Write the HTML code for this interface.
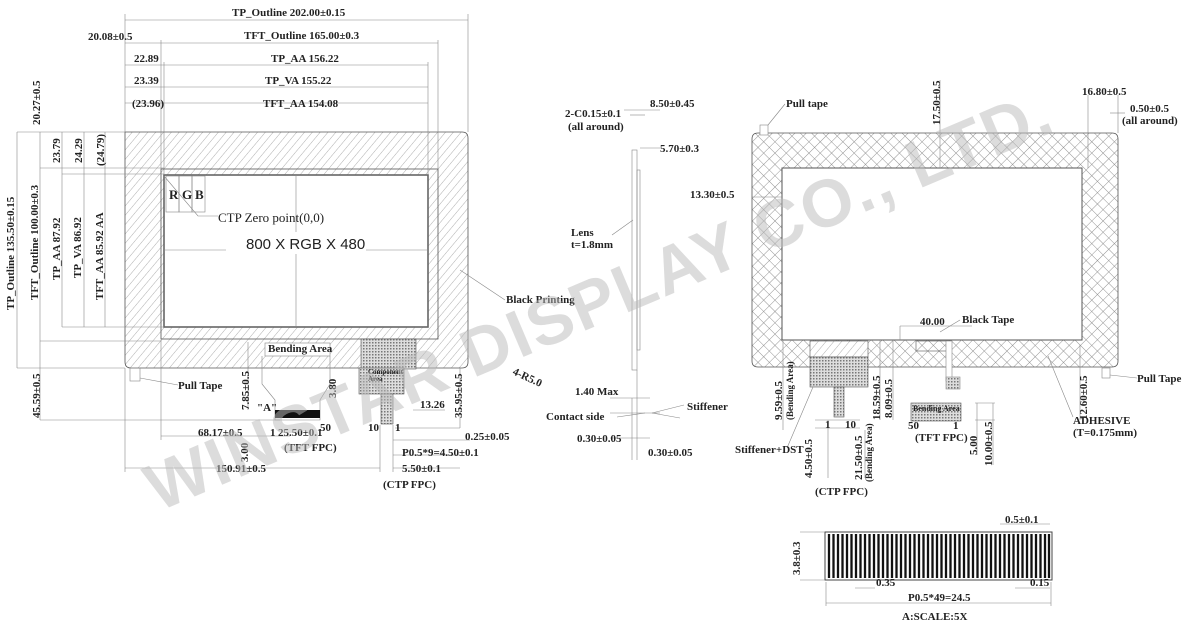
<!DOCTYPE html>
<html><head><meta charset="utf-8"><style>
body{margin:0;background:#fff}
svg{display:block;font-family:"Liberation Serif",serif;font-weight:bold}
text{font-size:11px;fill:#222}
.l{stroke:#555;stroke-width:0.8}
.t{stroke:#888;stroke-width:0.6;fill:none}
</style></head><body>
<svg width="1200" height="633" viewBox="0 0 1200 633" xmlns="http://www.w3.org/2000/svg">
<defs>
<pattern id="h" width="6" height="6" patternUnits="userSpaceOnUse" patternTransform="rotate(40)">
<rect width="6" height="6" fill="#fff"/><line x1="0" y1="0" x2="0" y2="6" stroke="#999" stroke-width="0.8"/></pattern>
<pattern id="x" width="8" height="8" patternUnits="userSpaceOnUse" patternTransform="rotate(45)">
<rect width="8" height="8" fill="#fff"/><line x1="0" y1="0" x2="0" y2="8" stroke="#888" stroke-width="0.9"/><line x1="0" y1="0" x2="8" y2="0" stroke="#888" stroke-width="0.9"/></pattern>
<pattern id="d" width="3" height="3" patternUnits="userSpaceOnUse"><rect width="3" height="3" fill="#ddd"/><rect width="1.5" height="1.5" fill="#777"/></pattern>
</defs>

<!-- LEFT VIEW -->
<path d="M125 132 H462 Q468 132 468 138 V362 Q468 368 462 368 H131 Q125 368 125 362 Z" fill="url(#h)" class="l"/>
<rect x="164" y="175" width="264" height="152" fill="#fff" stroke="#666" stroke-width="1.6"/>
<rect x="161" y="169" width="277" height="170" class="l" fill="none"/>
<line x1="296" y1="175" x2="296" y2="327" class="t"/>
<line x1="164" y1="250" x2="428" y2="250" class="t"/>
<rect x="226" y="232" width="140" height="22" fill="#fff"/>
<text x="246" y="249" style="font-family:'Liberation Sans',sans-serif;font-weight:normal;font-size:15px">800 X RGB X 480</text>
<rect x="166" y="176" width="13" height="36" class="t"/><rect x="179" y="176" width="13" height="36" class="t"/><rect x="192" y="176" width="13" height="36" class="t"/>
<text x="169" y="199" style="font-size:13px">R</text><text x="182" y="199" style="font-size:13px">G</text><text x="195" y="199" style="font-size:13px">B</text>
<polyline points="164,176 198,216 218,216" class="t"/>
<text x="218" y="222" style="font-size:13px;font-weight:normal">CTP Zero point(0,0)</text>
<rect x="361" y="339" width="55" height="30" fill="url(#d)" stroke="#555" stroke-width="0.6"/>
<rect x="359" y="368" width="45" height="26" fill="url(#d)" stroke="#555" stroke-width="0.6"/>
<text x="368" y="374" style="font-size:7px">Component</text><text x="368" y="381" style="font-size:7px">Area</text>
<rect x="381" y="394" width="12" height="30" fill="url(#d)" stroke="#555" stroke-width="0.6"/>
<rect x="265" y="343" width="65" height="13" fill="#fff" stroke="#888" stroke-width="0.6"/>
<text x="268" y="352">Bending Area</text>
<polyline points="262,356 262,384 275,400 275,420 320,420 320,400 330,384 330,356" class="t"/>
<rect x="275" y="410" width="45" height="8" fill="#111"/>
<rect x="130" y="368" width="10" height="13" class="t"/>
<line x1="140" y1="378" x2="178" y2="385" class="t"/>
<text x="178" y="389">Pull Tape</text>
<line x1="460" y1="270" x2="505" y2="300" class="t"/>
<text x="506" y="303">Black Printing</text>
<text x="512" y="374" transform="rotate(25 512 374)">4-R5.0</text>
<g class="t">
<line x1="125" y1="20" x2="468" y2="20"/><line x1="125" y1="14" x2="125" y2="132"/><line x1="468" y1="14" x2="468" y2="132"/>
<line x1="125" y1="43" x2="438" y2="43"/><line x1="161" y1="40" x2="161" y2="169"/><line x1="438" y1="40" x2="438" y2="169"/>
<line x1="125" y1="65" x2="428" y2="65"/><line x1="164" y1="62" x2="164" y2="175"/><line x1="428" y1="62" x2="428" y2="175"/>
<line x1="125" y1="87" x2="428" y2="87"/><line x1="125" y1="103" x2="428" y2="103"/>
<line x1="17" y1="132" x2="125" y2="132"/><line x1="17" y1="368" x2="125" y2="368"/>
<line x1="17" y1="132" x2="17" y2="368"/><line x1="40" y1="132" x2="40" y2="420"/><line x1="62" y1="132" x2="62" y2="327"/><line x1="84" y1="132" x2="84" y2="327"/><line x1="105" y1="132" x2="105" y2="327"/>
<line x1="40" y1="168" x2="164" y2="168"/><line x1="62" y1="174" x2="164" y2="174"/><line x1="62" y1="327" x2="164" y2="327"/><line x1="40" y1="341" x2="161" y2="341"/>
<line x1="40" y1="420" x2="280" y2="420"/>
<line x1="161" y1="436" x2="290" y2="436"/><line x1="161" y1="340" x2="161" y2="440"/>
<line x1="125" y1="468" x2="380" y2="468"/><line x1="125" y1="368" x2="125" y2="472"/>
<line x1="248" y1="342" x2="248" y2="410"/>
<line x1="460" y1="368" x2="460" y2="428"/><line x1="395" y1="428" x2="460" y2="428"/>
<line x1="380" y1="425" x2="380" y2="472"/><line x1="393" y1="425" x2="393" y2="472"/>
<line x1="393" y1="440" x2="470" y2="440"/><line x1="393" y1="455" x2="460" y2="455"/><line x1="393" y1="468" x2="460" y2="468"/>
<line x1="413" y1="410" x2="445" y2="410"/>
</g>
<text x="232" y="16">TP_Outline 202.00±0.15</text>
<text x="88" y="40">20.08±0.5</text>
<text x="244" y="39">TFT_Outline 165.00±0.3</text>
<text x="134" y="62">22.89</text><text x="271" y="62">TP_AA 156.22</text>
<text x="134" y="84">23.39</text><text x="265" y="84">TP_VA 155.22</text>
<text x="132" y="107">(23.96)</text><text x="263" y="107">TFT_AA 154.08</text>
<text transform="translate(40 125) rotate(-90)">20.27±0.5</text>
<text transform="translate(14 310) rotate(-90)">TP_Outline 135.50±0.15</text>
<text transform="translate(38 300) rotate(-90)">TFT_Outline 100.00±0.3</text>
<text transform="translate(60 280) rotate(-90)">TP_AA 87.92</text>
<text transform="translate(81 278) rotate(-90)">TP_VA 86.92</text>
<text transform="translate(103 300) rotate(-90)">TFT_AA 85.92 AA</text>
<text transform="translate(60 163) rotate(-90)">23.79</text>
<text transform="translate(82 163) rotate(-90)">24.29</text>
<text transform="translate(104 166) rotate(-90)">(24.79)</text>
<text transform="translate(40 418) rotate(-90)">45.59±0.5</text>
<text transform="translate(249 410) rotate(-90)">7.85±0.5</text>
<text transform="translate(336 398) rotate(-90)">3.80</text>
<text transform="translate(462 418) rotate(-90)">35.95±0.5</text>
<text transform="translate(248 462) rotate(-90)">3.00</text>
<text x="257" y="411">"A"</text>
<text x="198" y="436">68.17±0.5</text>
<text x="270" y="436">1</text><text x="278" y="436">25.50±0.1</text><text x="320" y="431">50</text>
<text x="284" y="451">(TFT FPC)</text>
<text x="368" y="431">10</text><text x="395" y="431">1</text>
<text x="420" y="408">13.26</text>
<text x="465" y="440">0.25±0.05</text>
<text x="402" y="456">P0.5*9=4.50±0.1</text>
<text x="402" y="472">5.50±0.1</text>
<text x="216" y="472">150.91±0.5</text>
<text x="383" y="488">(CTP FPC)</text>

<!-- SIDE VIEW -->
<g class="t">
<rect x="632" y="150" width="5" height="220"/><rect x="637" y="170" width="3" height="180"/>
<line x1="624" y1="110" x2="660" y2="110"/><line x1="640" y1="148" x2="660" y2="148"/>
<line x1="630" y1="115" x2="645" y2="115"/><line x1="632" y1="398" x2="632" y2="460"/><line x1="637" y1="398" x2="637" y2="460"/>
<line x1="610" y1="398" x2="650" y2="398"/><line x1="610" y1="413" x2="660" y2="413"/><line x1="610" y1="438" x2="650" y2="438"/>
<line x1="612" y1="235" x2="633" y2="220"/>
<line x1="617" y1="417" x2="645" y2="413"/><line x1="652" y1="413" x2="684" y2="405"/><line x1="652" y1="413" x2="680" y2="418"/>
<line x1="637" y1="370" x2="637" y2="398"/>
</g>
<text x="565" y="117">2-C0.15±0.1</text><text x="568" y="130">(all around)</text>
<text x="650" y="107">8.50±0.45</text><text x="660" y="152">5.70±0.3</text>
<text x="571" y="236">Lens</text><text x="571" y="248">t=1.8mm</text>
<text x="575" y="395">1.40 Max</text>
<text x="546" y="420">Contact side</text>
<text x="687" y="410">Stiffener</text>
<text x="577" y="442">0.30±0.05</text><text x="648" y="456">0.30±0.05</text>

<!-- RIGHT VIEW -->
<path d="M758 133 H1112 Q1118 133 1118 139 V361 Q1118 367 1112 367 H758 Q752 367 752 361 V139 Q752 133 758 133 Z" fill="url(#x)" class="l"/>
<rect x="782" y="168" width="300" height="172" fill="#fff" stroke="#555" stroke-width="1"/>
<rect x="810" y="341" width="58" height="16" fill="url(#h)" stroke="#555" stroke-width="0.6"/>
<rect x="810" y="357" width="58" height="30" fill="url(#d)" stroke="#555" stroke-width="0.6"/>
<rect x="834" y="387" width="10" height="30" fill="url(#d)" stroke="#555" stroke-width="0.6"/>
<rect x="916" y="341" width="35" height="10" fill="url(#x)" stroke="#555" stroke-width="0.6"/>
<rect x="946" y="341" width="6" height="40" fill="#fff" stroke="#888" stroke-width="0.6"/>
<rect x="946" y="377" width="14" height="12" fill="url(#d)" stroke="#888" stroke-width="0.6"/>
<rect x="911" y="403" width="50" height="18" fill="url(#d)" stroke="#555" stroke-width="0.6"/>
<text x="913" y="411" style="font-size:8px">Bending Area</text>
<rect x="760" y="125" width="8" height="10" fill="#fff" stroke="#888" stroke-width="0.6"/><rect x="1102" y="368" width="8" height="10" class="t"/>
<g class="t">
<line x1="768" y1="125" x2="785" y2="104"/><line x1="1110" y1="375" x2="1137" y2="378"/>
<line x1="940" y1="332" x2="960" y2="320"/><line x1="1048" y1="356" x2="1073" y2="417"/>
<line x1="900" y1="326" x2="972" y2="326"/><line x1="900" y1="326" x2="900" y2="340"/>
<line x1="940" y1="80" x2="940" y2="168"/><line x1="1088" y1="95" x2="1088" y2="168"/><line x1="1118" y1="95" x2="1118" y2="133"/>
<line x1="1110" y1="113" x2="1125" y2="113"/><line x1="752" y1="197" x2="782" y2="197"/>
<line x1="783" y1="340" x2="783" y2="430"/><line x1="880" y1="340" x2="880" y2="420"/><line x1="893" y1="340" x2="893" y2="420"/>
<line x1="1080" y1="345" x2="1080" y2="420"/><line x1="815" y1="420" x2="860" y2="420"/><line x1="815" y1="428" x2="860" y2="428"/>
<line x1="975" y1="403" x2="995" y2="403"/><line x1="975" y1="420" x2="995" y2="420"/><line x1="977" y1="403" x2="977" y2="455"/><line x1="993" y1="403" x2="993" y2="465"/>
<line x1="813" y1="387" x2="787" y2="448"/>
<line x1="828" y1="420" x2="828" y2="478"/><line x1="865" y1="430" x2="865" y2="478"/>
</g>
<text x="786" y="107">Pull tape</text>
<text transform="translate(940 125) rotate(-90)">17.50±0.5</text>
<text x="1082" y="95">16.80±0.5</text><text x="1130" y="112">0.50±0.5</text><text x="1122" y="124">(all around)</text>
<text x="690" y="198">13.30±0.5</text>
<text x="920" y="325">40.00</text><text x="962" y="323">Black Tape</text>
<text x="1137" y="382">Pull Tape</text>
<text x="1073" y="424">ADHESIVE</text><text x="1073" y="436">(T=0.175mm)</text>
<text transform="translate(1087 420) rotate(-90)">12.60±0.5</text>
<text transform="translate(782 420) rotate(-90)">9.59±0.5</text>
<text transform="translate(793 420) rotate(-90)" style="font-size:9px">(Bending Area)</text>
<text transform="translate(880 420) rotate(-90)">18.59±0.5</text>
<text transform="translate(892 418) rotate(-90)">8.09±0.5</text>
<text x="825" y="428">1</text><text x="845" y="428">10</text>
<text x="908" y="429">50</text><text x="953" y="429">1</text>
<text x="915" y="441">(TFT FPC)</text>
<text transform="translate(977 455) rotate(-90)">5.00</text>
<text transform="translate(992 466) rotate(-90)">10.00±0.5</text>
<text x="735" y="453">Stiffener+DST</text>
<text transform="translate(812 478) rotate(-90)">4.50±0.5</text>
<text transform="translate(862 480) rotate(-90)">21.50±0.5</text>
<text transform="translate(872 482) rotate(-90)" style="font-size:9px">(Bending Area)</text>
<text x="815" y="495">(CTP FPC)</text>

<!-- FPC ZOOM -->
<rect x="825" y="532" width="227" height="48" fill="#fff" stroke="#444"/>
<g stroke="#111" stroke-width="2.3">
<path d="M829 534V578M833.5 534V578M838 534V578M842.5 534V578M847 534V578M851.5 534V578M856 534V578M860.5 534V578M865 534V578M869.5 534V578M874 534V578M878.5 534V578M883 534V578M887.5 534V578M892 534V578M896.5 534V578M901 534V578M905.5 534V578M910 534V578M914.5 534V578M919 534V578M923.5 534V578M928 534V578M932.5 534V578M937 534V578M941.5 534V578M946 534V578M950.5 534V578M955 534V578M959.5 534V578M964 534V578M968.5 534V578M973 534V578M977.5 534V578M982 534V578M986.5 534V578M991 534V578M995.5 534V578M1000 534V578M1004.5 534V578M1009 534V578M1013.5 534V578M1018 534V578M1022.5 534V578M1027 534V578M1031.5 534V578M1036 534V578M1040.5 534V578M1045 534V578M1049 534V578"/>
</g>
<g class="t">
<line x1="826" y1="582" x2="826" y2="606"/><line x1="1051" y1="582" x2="1051" y2="606"/><line x1="826" y1="603" x2="1051" y2="603"/>
<line x1="1000" y1="524" x2="1050" y2="524"/><line x1="800" y1="532" x2="825" y2="532"/><line x1="800" y1="580" x2="825" y2="580"/>
<line x1="855" y1="588" x2="875" y2="588"/><line x1="1015" y1="588" x2="1050" y2="588"/>
</g>
<text x="1005" y="523">0.5±0.1</text>
<text transform="translate(800 575) rotate(-90)">3.8±0.3</text>
<text x="876" y="586">0.35</text><text x="1030" y="586">0.15</text>
<text x="908" y="601">P0.5*49=24.5</text>
<text x="902" y="620">A:SCALE:5X</text>

<!-- WATERMARK -->
<text x="0" y="0" transform="translate(158 512) rotate(-23)" style="font-family:'Liberation Sans',sans-serif;font-weight:bold;font-size:67px;fill:#bbb;opacity:0.5;letter-spacing:2px">WINSTAR DISPLAY CO., LTD.</text>
</svg>
</body></html>
